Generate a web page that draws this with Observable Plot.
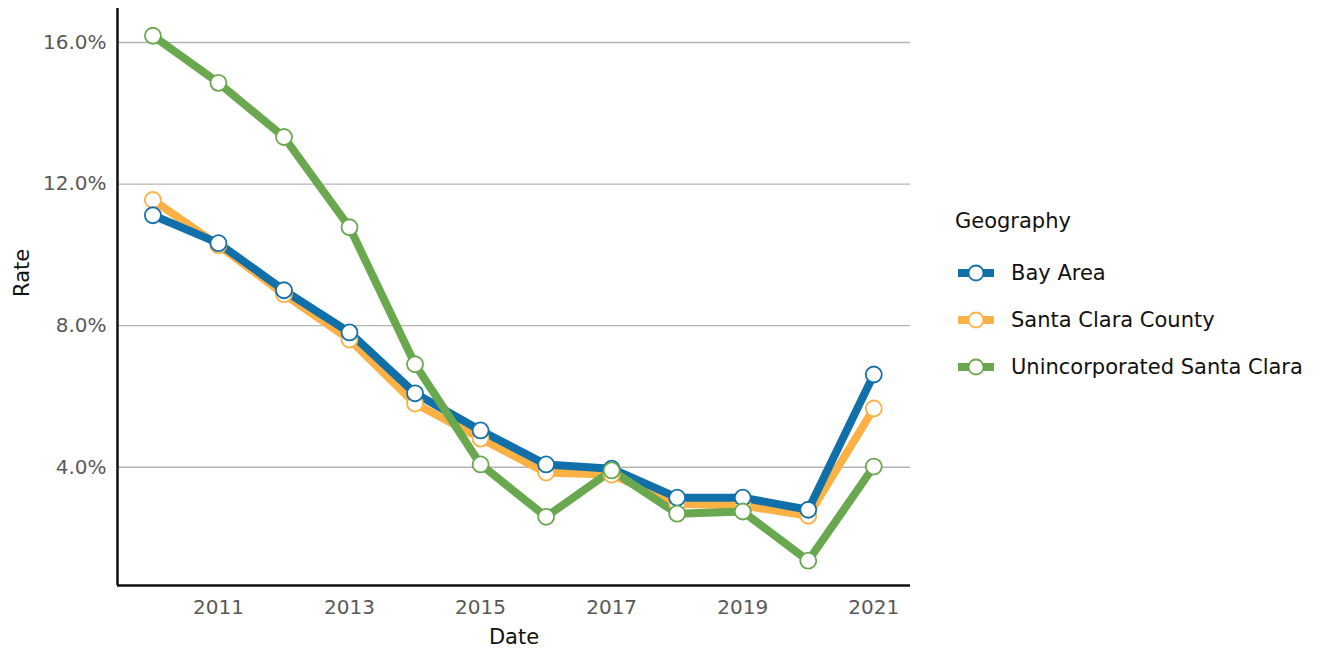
<!DOCTYPE html>
<html>
<head>
<meta charset="utf-8">
<script src="https://cdn.jsdelivr.net/npm/d3@7"></script>
<script src="https://cdn.jsdelivr.net/npm/@observablehq/plot@0.6"></script>
<style>
  body { margin: 0; background: #fff; font-family: "DejaVu Sans", sans-serif; }
  #wrap { position: relative; width: 1329px; height: 649px; }
  #chart { position: absolute; left: 0; top: 0; }
  #legend { position: absolute; left: 955px; top: 205px; color: #111; }
  #legend .title { font-size: 21px; height: 30px; padding-top: 4px; margin-bottom: 10px; }
  #legend .item { display: flex; align-items: center; height: 47px; font-size: 21px; }
  #legend svg { margin-left: 2px; margin-right: 16px; }
</style>
</head>
<body>
<div id="wrap"><div id="chart"></div><div id="legend"></div></div>
<script>
const years = [2010, 2011, 2012, 2013, 2014, 2015, 2016, 2017, 2018, 2019, 2020, 2021];
const bayArea = [11.12, 10.33, 9.0, 7.81, 6.09, 5.04, 4.08, 3.96, 3.14, 3.14, 2.80, 6.62];
const santaClaraCounty = [11.55, 10.27, 8.89, 7.61, 5.80, 4.81, 3.85, 3.79, 2.97, 2.92, 2.63, 5.66];
const unincorporated = [16.19, 14.86, 13.33, 10.78, 6.91, 4.08, 2.60, 3.91, 2.69, 2.75, 1.36, 4.02];
const seriesNames = ["Bay Area", "Santa Clara County", "Unincorporated Santa Clara"];
const seriesColors = ["#1170aa", "#fcb145", "#6aa84f"];
const yTicks = [4, 8, 12, 16];
const xTicks = [2011, 2013, 2015, 2017, 2019, 2021];

const seriesValues = [bayArea, santaClaraCounty, unincorporated];
const rows = [];
seriesNames.forEach((name, i) => {
  years.forEach((yr, j) => rows.push({ Date: yr, Rate: seriesValues[i][j], Geography: name }));
});
const drawOrder = ["Santa Clara County", "Bay Area", "Unincorporated Santa Clara"];
const colorScale = { domain: seriesNames, range: seriesColors };

const yDomain = [0.66, 16.96];
const xDomain = [2009.46, 2021.56];

const marks = [
  Plot.ruleY(yTicks, { stroke: "#b4b4b4", strokeWidth: 1.3 }),
  Plot.axisY({ ticks: yTicks, tickFormat: d => d.toFixed(1) + "%", tickSize: 0, tickPadding: 11,
               fontSize: 20, fill: "#595959", label: null }),
  Plot.axisX({ ticks: xTicks, tickFormat: d => String(d), tickSize: 0, tickPadding: 14,
               fontSize: 20, fill: "#595959", label: null }),
  Plot.text(["Rate"], { frameAnchor: "left", dx: -95, rotate: -90, fontSize: 21, fill: "#111" }),
  Plot.text(["Date"], { frameAnchor: "bottom", dy: 58, fontSize: 21, fill: "#111" })
];
for (const name of drawOrder) {
  const d = rows.filter(r => r.Geography === name);
  marks.push(Plot.line(d, { x: "Date", y: "Rate", stroke: "Geography", strokeWidth: 8, strokeLinejoin: "round", strokeLinecap: "butt" }));
}
for (const name of drawOrder) {
  const d = rows.filter(r => r.Geography === name);
  marks.push(Plot.dot(d, { x: "Date", y: "Rate", stroke: "Geography", fill: "white", r: 8, strokeWidth: 1.8 }));
}
marks.push(Plot.ruleX([xDomain[0]], { stroke: "#111", strokeWidth: 2.5 }));
marks.push(Plot.ruleY([yDomain[0]], { stroke: "#111", strokeWidth: 2.5 }));

const chart = Plot.plot({
  width: 930,
  height: 649,
  marginLeft: 117,
  marginRight: 20,
  marginTop: 8,
  marginBottom: 64,
  style: { fontFamily: "'DejaVu Sans', sans-serif", background: "white", overflow: "visible" },
  x: { domain: xDomain },
  y: { domain: yDomain },
  color: colorScale,
  marks
});
document.getElementById("chart").appendChild(chart);

const legend = document.getElementById("legend");
const title = document.createElement("div");
title.className = "title";
title.textContent = "Geography";
legend.appendChild(title);
seriesNames.forEach((name, i) => {
  const item = document.createElement("div");
  item.className = "item";
  const sw = d3.create("svg").attr("width", 38).attr("height", 20);
  sw.append("line").attr("x1", 1).attr("x2", 37).attr("y1", 10).attr("y2", 10)
    .attr("stroke", seriesColors[i]).attr("stroke-width", 8);
  sw.append("circle").attr("cx", 19).attr("cy", 10).attr("r", 7.5).attr("fill", "white")
    .attr("stroke", seriesColors[i]).attr("stroke-width", 1.8);
  item.appendChild(sw.node());
  const t = document.createElement("span");
  t.textContent = name;
  item.appendChild(t);
  legend.appendChild(item);
});
</script>
</body>
</html>
